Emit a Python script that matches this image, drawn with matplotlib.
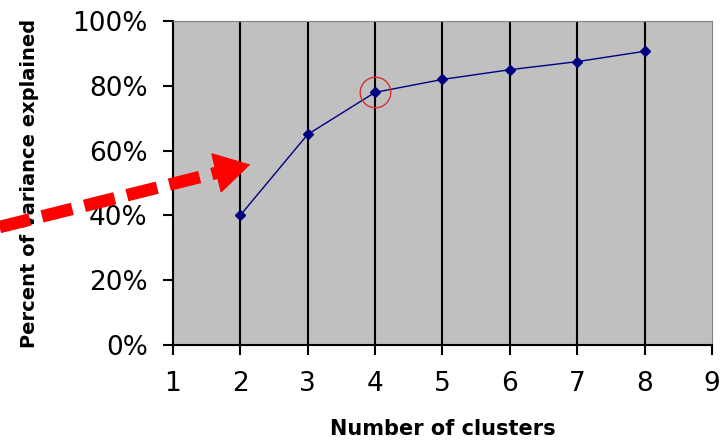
import matplotlib
matplotlib.use('Agg')
import matplotlib.pyplot as plt

# data
clusters = [2, 3, 4, 5, 6, 7, 8]
variance = [40, 65, 78, 82, 85, 87.5, 90.7]
elbow = (4, 78)
y_ticks = [0, 20, 40, 60, 80, 100]
y_labels = ['0%', '20%', '40%', '60%', '80%', '100%']
x_ticks = [1, 2, 3, 4, 5, 6, 7, 8, 9]

# red arrow (data units, drawn outside the axes)
arrow_tail = (-1.57, 36.4)
arrow_base = (1.66, 53.2)
arrow_tip = (2.15, 55.7)

fig = plt.figure(figsize=(7.2, 4.41), dpi=100)
ax = fig.add_axes([0.240, 0.218, 0.749, 0.734])
ax.set_facecolor('#c0c0c0')

ax.set_xlim(1, 9)
ax.set_ylim(0, 100)

for x in x_ticks[1:-1]:
    ax.axvline(x, color='black', lw=1.5, zorder=1)

ax.plot(clusters, variance, color='#000080', lw=1, marker='D', ms=5,
        mfc='#000080', mec='#000080', zorder=3)
ax.plot([elbow[0]], [elbow[1]], marker='o', ms=22, mfc='none',
        mec='#d83030', mew=1, zorder=4)

ax.set_xticks(x_ticks)
ax.set_yticks(y_ticks)
ax.set_yticklabels(y_labels)
ax.tick_params(axis='both', direction='out', length=7, width=1.5,
               labelsize=19, color='black')
ax.tick_params(axis='y', pad=11)
ax.tick_params(axis='x', pad=12)

ax.spines['left'].set_linewidth(1.5)
ax.spines['bottom'].set_linewidth(1.5)
ax.spines['top'].set_color('#808080')
ax.spines['right'].set_color('#808080')

ax.set_xlabel('Number of clusters', fontsize=15, fontweight='bold', labelpad=16)
ax.set_ylabel('Percent of variance explained', fontsize=14, fontweight='bold', labelpad=24)

# dashed red arrow
ax.plot([arrow_tail[0], arrow_base[0]], [arrow_tail[1], arrow_base[1]],
        color='red', lw=9, dashes=(2.5, 1.0), solid_capstyle='butt',
        clip_on=False, zorder=5)
ax.annotate('', xy=arrow_tip, xytext=arrow_base,
            arrowprops=dict(arrowstyle='-|>,head_length=1.2,head_width=0.7',
                            mutation_scale=20, color='red', lw=1,
                            shrinkA=0, shrinkB=0),
            annotation_clip=False, zorder=5)

fig.savefig('out.png', dpi=100)
